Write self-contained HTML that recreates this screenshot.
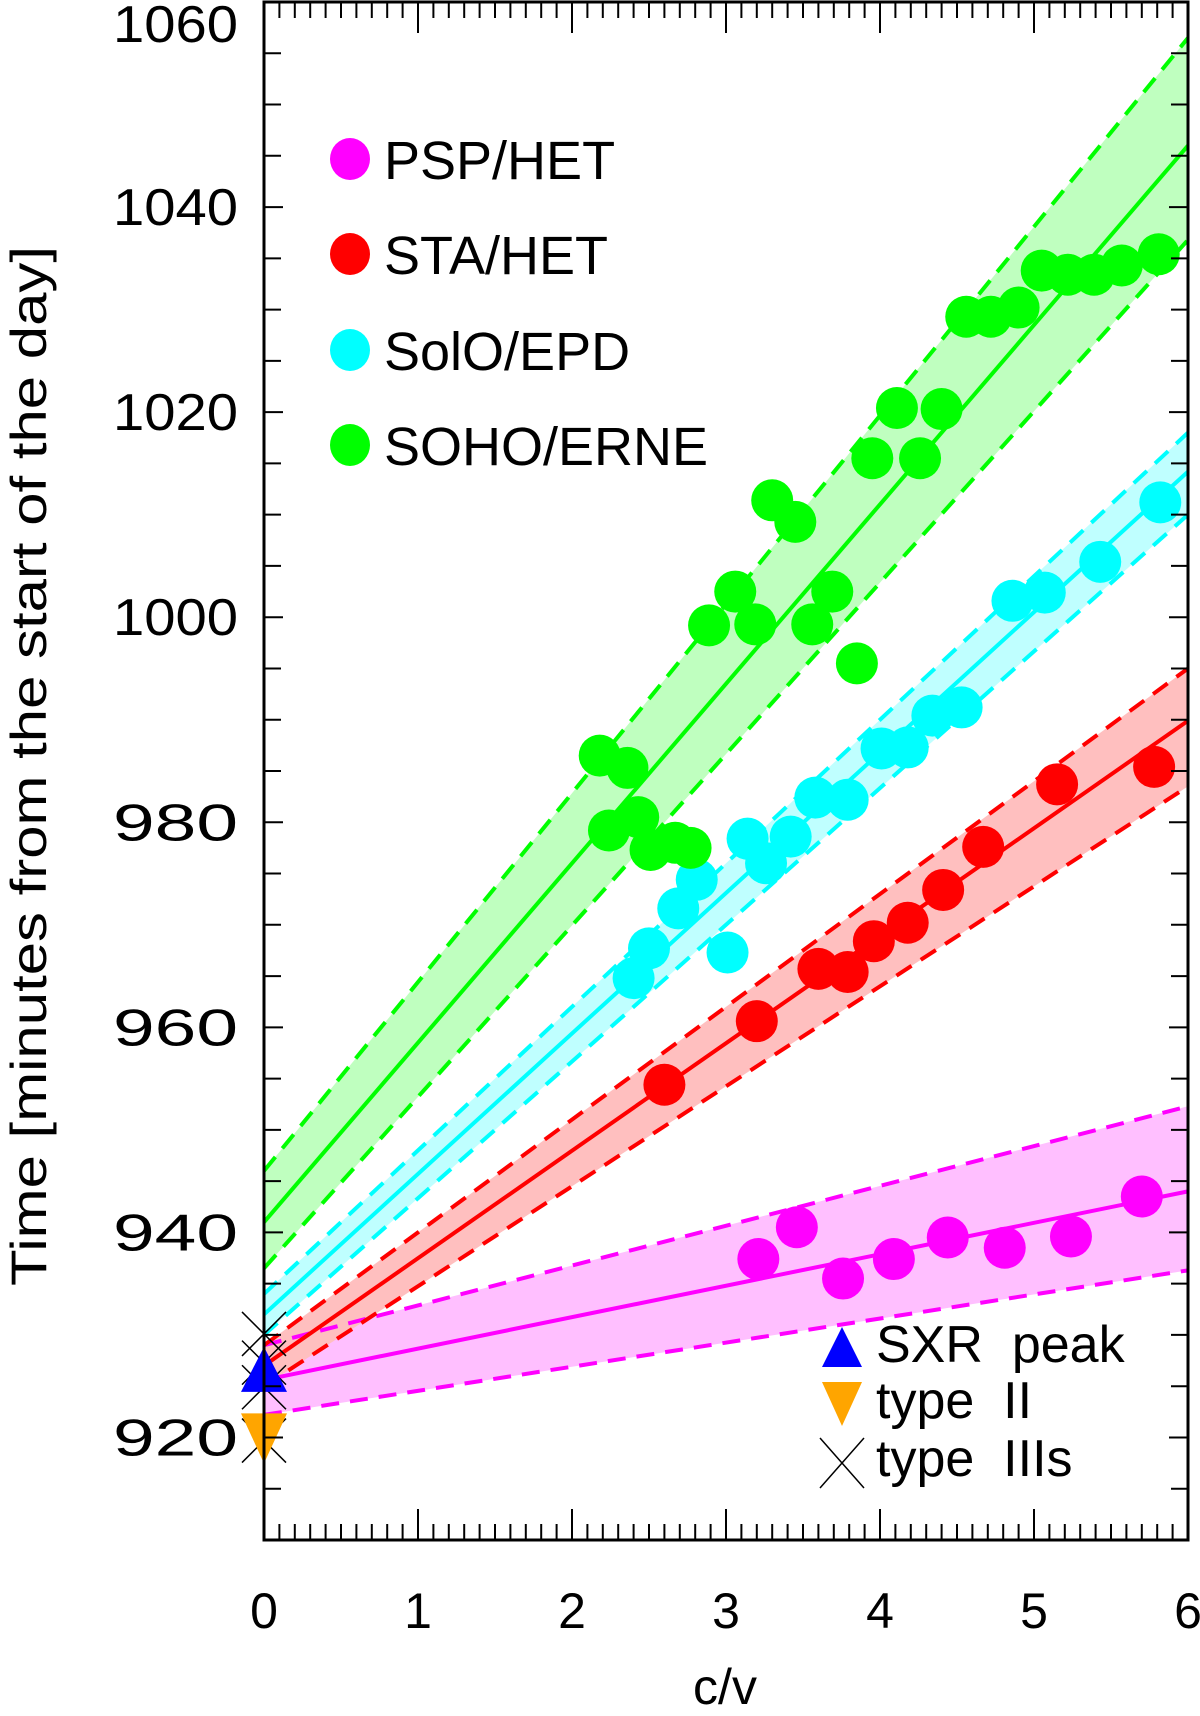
<!DOCTYPE html>
<html><head><meta charset="utf-8"><style>
html,body{margin:0;padding:0;background:#fff;}
svg{display:block;}
text{font-family:"Liberation Sans",sans-serif;fill:#000;}
</style></head><body>
<svg id="chart" width="1200" height="1716" viewBox="0 0 1200 1716" xmlns="http://www.w3.org/2000/svg">
<g id="bands"></g>
<g id="fits"></g>
<g id="pts"></g>
<g id="axes"></g>
<g id="legend"></g>
</svg>
<script>
const xTicks=[0,1,2,3,4,5,6];
const yTicks=[920,940,960,980,1000,1020,1040,1060];
const pspX=[3.21,3.46,3.76,4.09,4.44,4.81,5.24,5.70];
const pspT=[937.4,940.5,935.5,937.4,939.5,938.5,939.6,943.5];
const staX=[2.60,3.20,3.60,3.79,3.96,4.18,4.41,4.67,5.15,5.78];
const staT=[954.4,960.6,965.7,965.4,968.4,970.2,973.4,977.6,983.7,985.4];
const soloX=[2.40,2.50,2.69,2.81,3.01,3.14,3.26,3.42,3.58,3.79,4.01,4.18,4.34,4.53,4.86,5.07,5.43,5.82];
const soloT=[964.8,967.7,971.6,974.4,967.3,978.4,976.0,978.6,982.4,982.2,987.2,987.3,990.4,991.2,1001.6,1002.4,1005.4,1011.2];
const sohoX=[2.18,2.36,2.24,2.43,2.51,2.67,2.77,2.89,3.06,3.19,3.30,3.45,3.56,3.69,3.85,3.95,4.11,4.26,4.40,4.56,4.72,4.90,5.05,5.22,5.39,5.57,5.81];
const sohoT=[986.5,985.3,979.2,980.5,977.3,978.0,977.5,999.2,1002.5,999.3,1011.4,1009.3,999.3,1002.5,995.5,1015.5,1020.4,1015.5,1020.3,1029.3,1029.3,1030.2,1033.8,1033.4,1033.4,1034.3,1035.4];
// fits: [t at c/v=0, t at c/v=6]
const pspFit=[925.6,944.0], pspUp=[929,952.3], pspLo=[922.2,936.3];
const staFit=[927,989.9], staUp=[929,995], staLo=[925,983.5];
const soloFit=[932,1014.2], soloUp=[934,1018], soloLo=[930,1010];
const sohoFit=[941,1046], sohoUp=[946,1056.5], sohoLo=[936.5,1036.8];
const sxrT=[926.5], typeIIT=[920.6], typeIIIT=[930.1,927.3,924.9,919.7];

const NS="http://www.w3.org/2000/svg";
const L=264,R=1188,T=2,B=1540;
const X=v=>L+(v-0)/6*(R-L);
const Y=t=>T+(1060-t)/(1060-910)*(B-T);
function mk(tag,parent,attrs){const e=document.createElementNS(NS,tag);for(const k in attrs)e.setAttribute(k,attrs[k]);parent.appendChild(e);return e;}
const bands=document.getElementById('bands'),fits=document.getElementById('fits'),pts=document.getElementById('pts'),axes=document.getElementById('axes'),leg=document.getElementById('legend');

const series=[
 {n:'psp',x:pspX,t:pspT,f:pspFit,u:pspUp,l:pspLo,c:'#ff00ff',fill:'#ffbfff'},
 {n:'sta',x:staX,t:staT,f:staFit,u:staUp,l:staLo,c:'#ff0000',fill:'#ffbfbf'},
 {n:'solo',x:soloX,t:soloT,f:soloFit,u:soloUp,l:soloLo,c:'#00ffff',fill:'#bfffff'},
 {n:'soho',x:sohoX,t:sohoT,f:sohoFit,u:sohoUp,l:sohoLo,c:'#00ff00',fill:'#bfffbf'}
];
series.forEach(s=>{
 const b=mk('polygon',bands,{points:`${X(0)},${Y(s.u[0])} ${X(6)},${Y(s.u[1])} ${X(6)},${Y(s.l[1])} ${X(0)},${Y(s.l[0])}`,fill:s.fill});
 
 
});
series.forEach(s=>{
 const ln=mk('line',fits,{x1:X(0),y1:Y(s.f[0]),x2:X(6),y2:Y(s.f[1]),stroke:s.c,'stroke-width':4});
 
 
 [s.u,s.l].forEach((bd,i)=>{
  const d=mk('line',fits,{x1:X(0),y1:Y(bd[0]),x2:X(6),y2:Y(bd[1]),stroke:s.c,'stroke-width':4,'stroke-dasharray':'18 11'});
  
  
 });
});
series.forEach(s=>{
 s.x.forEach((v,i)=>{
  const c=mk('circle',pts,{cx:X(v),cy:Y(s.t[i]),r:21,fill:s.c});
  
  
 });
});
typeIIIT.forEach(t=>{
 const g=mk('path',pts,{d:`M${X(0)-22},${Y(t)-22}L${X(0)+22},${Y(t)+22}M${X(0)+22},${Y(t)-22}L${X(0)-22},${Y(t)+22}`,stroke:'#000','stroke-width':1.5,fill:'none'});
 
 
});
sxrT.forEach(t=>{
 const p=mk('polygon',pts,{points:`${X(0)},${Y(t)-24} ${X(0)+23},${Y(t)+21} ${X(0)-23},${Y(t)+21}`,fill:'#0000ff'});
 
 
});
typeIIT.forEach(t=>{
 const p=mk('polygon',pts,{points:`${X(0)-23},${Y(t)-18} ${X(0)+23},${Y(t)-18} ${X(0)},${Y(t)+32}`,fill:'#ffa500'});
 
 
});
const fr=mk('rect',axes,{x:L,y:T,width:R-L,height:B-T,fill:'none',stroke:'#000','stroke-width':3});


for(let k=0;k<=60;k++){const v=k/10;const len=(k%10===0)?31:16;
 mk('line',axes,{x1:X(v),y1:B,x2:X(v),y2:B-len,stroke:'#000','stroke-width':2});
 mk('line',axes,{x1:X(v),y1:T,x2:X(v),y2:T+len,stroke:'#000','stroke-width':2});}
for(let t=910;t<=1060;t+=5){const len=(t%20===0)?19:17;
 mk('line',axes,{x1:L,y1:Y(t),x2:L+len,y2:Y(t),stroke:'#000','stroke-width':2});
 mk('line',axes,{x1:R,y1:Y(t),x2:R-len,y2:Y(t),stroke:'#000','stroke-width':2});}
xTicks.forEach(v=>{const tx=mk('text',axes,{x:X(v),y:1628,'font-size':50,'text-anchor':'middle'});tx.textContent=v;
 
 });
yTicks.forEach(t=>{const yy=Math.max(Y(t)+18,42);const tx=mk('text',axes,{x:238,y:yy,'font-size':52,'text-anchor':'end',textLength:125,lengthAdjust:'spacingAndGlyphs'});tx.textContent=t;
 
 });
const xt=mk('text',axes,{x:725,y:1704,'font-size':50,'text-anchor':'middle'});xt.textContent='c/v';


const yt=mk('text',axes,{x:0,y:0,'font-size':50,'text-anchor':'middle',transform:'translate(46,766) rotate(-90)',textLength:1040,lengthAdjust:'spacingAndGlyphs'});yt.textContent='Time [minutes from the start of the day]';


const names=['PSP/HET','STA/HET','SolO/EPD','SOHO/ERNE'];
const cols=['#ff00ff','#ff0000','#00ffff','#00ff00'];
const ly=[159,254,350,445];
names.forEach((n,i)=>{
 const c=mk('ellipse',leg,{cx:350,cy:ly[i],rx:20,ry:21,fill:cols[i]});
 
 
 const tx=mk('text',leg,{x:384,y:ly[i]+20,'font-size':54});tx.textContent=n;
 
 
});
const b1=mk('polygon',leg,{points:'842,1327 862,1367 822,1367',fill:'#0000ff'});


const b2=mk('polygon',leg,{points:'822,1382 862,1382 842,1426',fill:'#ffa500'});


const b3=mk('path',leg,{d:'M820,1438L864,1488M864,1438L820,1488',stroke:'#000','stroke-width':1.5});


[['SXR  peak',1362],['type  II',1418],['type  IIIs',1476]].forEach(a=>{
 const tx=mk('text',leg,{x:876,y:a[1],'font-size':52,'xml:space':'preserve'});tx.textContent=a[0];
 tx.setAttribute('style','white-space:pre');
 
 
});
</script>
</body></html>
